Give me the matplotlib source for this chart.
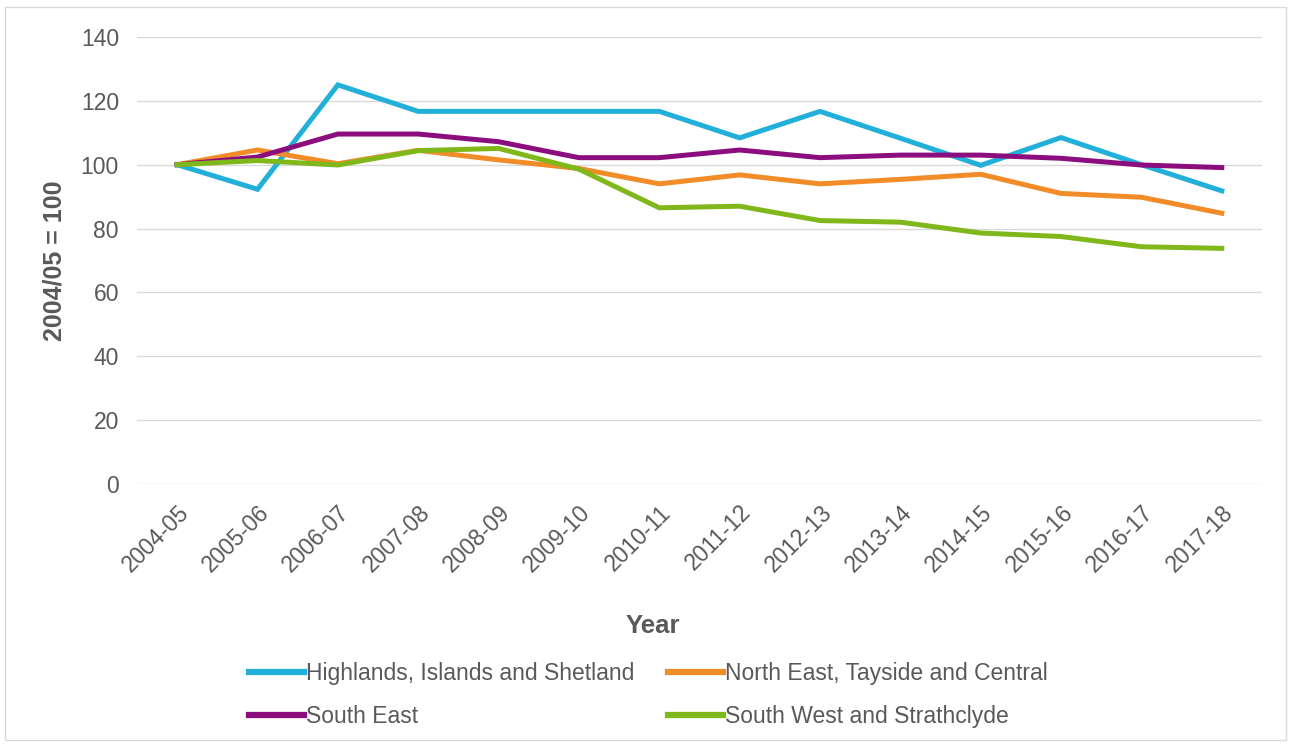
import matplotlib
matplotlib.use('Agg')
import matplotlib.pyplot as plt
from matplotlib.patches import Rectangle

matplotlib.rcParams['font.family'] = ['Liberation Sans', 'DejaVu Sans']

# --- data (index, 2004/05 = 100) ---
years = ['2004-05', '2005-06', '2006-07', '2007-08', '2008-09', '2009-10', '2010-11',
         '2011-12', '2012-13', '2013-14', '2014-15', '2015-16', '2016-17', '2017-18']
highlands = [100, 92.3, 125.0, 116.7, 116.7, 116.7, 116.7, 108.4, 116.7, 108.3, 99.8, 108.5, 100.0, 91.8]
north_east = [100, 104.6, 100.3, 104.5, 101.5, 98.8, 94.0, 96.8, 94.0, 95.4, 97.0, 91.0, 89.8, 84.8]
south_east = [100, 102.4, 109.6, 109.6, 107.2, 102.2, 102.2, 104.6, 102.2, 103.0, 103.0, 102.0, 99.9, 99.1]
south_west = [100, 101.3, 99.9, 104.4, 105.1, 98.6, 86.5, 87.0, 82.5, 82.0, 78.6, 77.5, 74.3, 73.8]

series_names = ['Highlands, Islands and Shetland', 'North East, Tayside and Central',
                'South East', 'South West and Strathclyde']
series_colors = ['#22B0DA', '#F28C28', '#8C0E7E', '#80B81C']

fig = plt.figure(figsize=(12.91, 7.44), dpi=100)
ax = fig.add_axes([0.1061, 0.3495, 0.8714, 0.6008])

x = list(range(len(years)))
lines = []
for vals, name, col in zip([highlands, north_east, south_east, south_west], series_names, series_colors):
    ln, = ax.plot(x, vals, color=col, lw=3.6, label=name, solid_joinstyle='miter')
    lines.append(ln)

ax.set_xlim(-0.5, len(years) - 0.5)
ax.set_ylim(0, 140)
ax.set_yticks(range(0, 141, 20))
ax.set_xticks(x)
ax.set_xticklabels(years, rotation=45, ha='right', rotation_mode='anchor')
ax.grid(axis='y', color='#D9D9D9', lw=1)
ax.set_axisbelow(True)
for s in ax.spines.values():
    s.set_visible(False)
ax.tick_params(axis='both', length=0, labelsize=16.5, colors='#595959')
ax.tick_params(axis='y', pad=13)
ax.tick_params(axis='x', pad=12)

fig.text(0.042, 0.650, '2004/05 = 100', rotation=90, ha='center', va='center',
         fontsize=18, fontweight='bold', color='#595959')
fig.text(0.506, 0.158, 'Year', ha='center', va='center',
         fontsize=18.5, fontweight='bold', color='#595959')

# Excel fills the legend row by row, matplotlib column by column
order = [0, 2, 1, 3]
leg = fig.legend([lines[i] for i in order], [series_names[i] for i in order],
                 loc='center', bbox_to_anchor=(0.502, 0.066), ncol=2, frameon=False,
                 fontsize=16.5, handlelength=2.4, handletextpad=0.1, columnspacing=1.45,
                 labelspacing=0.85, labelcolor='#595959')
for h in leg.get_lines():
    h.set_linewidth(4.5)

# outer chart border
fig.patches.append(Rectangle((0.004, 0.006), 0.992, 0.985, transform=fig.transFigure,
                             fill=False, edgecolor='#D9D9D9', lw=1))

plt.savefig('out.png', dpi=100)
